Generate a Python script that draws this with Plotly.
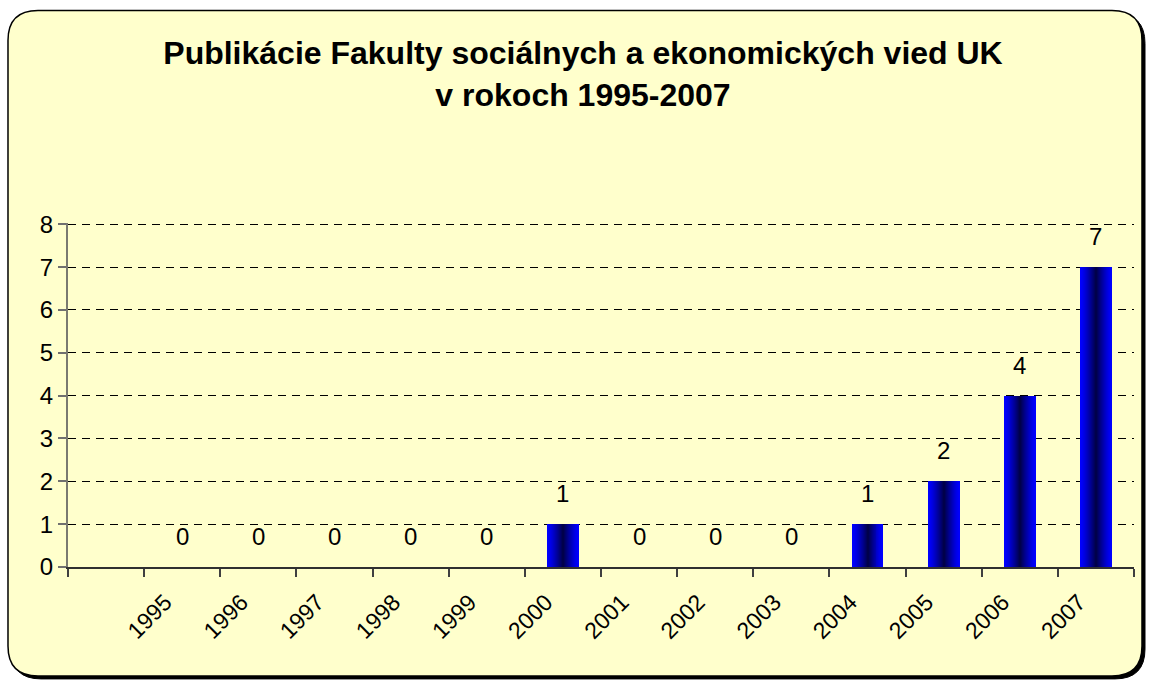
import plotly.graph_objects as go

# ---- data ----
years = ["1995", "1996", "1997", "1998", "1999", "2000", "2001",
         "2002", "2003", "2004", "2005", "2006", "2007"]
counts = [0, 0, 0, 0, 0, 1, 0, 0, 0, 1, 2, 4, 7]
title_lines = ["Publikácie Fakulty sociálnych a ekonomických vied UK",
               "v rokoch 1995-2007"]

W, H = 1149, 684
YMAX = 8.03
L, R, B = 68, 1134, 567          # plot area in pixels
T = B - (B - 224) * YMAX / 8     # so that y=8 sits at pixel 224

FONT = "Liberation Sans, Arial, sans-serif"

fig = go.Figure()

# gradient bars: overlaid bars, narrowing and darkening toward the centre
n_layers = 16
full_w = 0.42
for i in range(n_layers):
    f = (i / (n_layers - 1)) ** 1.3
    w = full_w * (1 - i / n_layers)
    b = int(round(255 - (255 - 75) * f))
    fig.add_trace(go.Bar(
        x=years, y=counts, width=w,
        marker=dict(color=f"rgb(0,0,{b})", line=dict(width=0)),
        hoverinfo="skip", showlegend=False,
    ))

# data labels (x given as category index; slot 0 is the empty first slot)
for i, (yr, v) in enumerate(zip(years, counts)):
    fig.add_annotation(x=i + 1, y=v, xref="x", yref="y", text=str(v),
                       showarrow=False, yanchor="bottom", yshift=15,
                       font=dict(family=FONT, size=24, color="black"))

def px_to_paper(px, py):
    return (px - L) / (R - L), (B - py) / (B - T)

def rounded_path(x0, y0, x1, y1, r):
    def P(px, py):
        xx, yy = px_to_paper(px, py)
        return f"{xx:.5f},{yy:.5f}"
    return (f"M {P(x0 + r, y0)} L {P(x1 - r, y0)} Q {P(x1, y0)} {P(x1, y0 + r)} "
            f"L {P(x1, y1 - r)} Q {P(x1, y1)} {P(x1 - r, y1)} "
            f"L {P(x0 + r, y1)} Q {P(x0, y1)} {P(x0, y1 - r)} "
            f"L {P(x0, y0 + r)} Q {P(x0, y0)} {P(x0 + r, y0)} Z")

fx0, fy0, fx1, fy1, rad = 8, 10, 1142, 676, 30
fig.add_shape(type="path", xref="paper", yref="paper", layer="below",
              path=rounded_path(fx0 + 3, fy0 + 3, fx1 + 3, fy1 + 3, rad),
              fillcolor="black", line=dict(color="black", width=1))
fig.add_shape(type="path", xref="paper", yref="paper", layer="below",
              path=rounded_path(fx0, fy0, fx1, fy1, rad),
              fillcolor="#FFFFCC", line=dict(color="black", width=1.5))

fig.update_layout(
    width=W, height=H,
    margin=dict(l=L, r=W - R, t=T, b=H - B, pad=0),
    paper_bgcolor="white",
    plot_bgcolor="rgba(0,0,0,0)",
    barmode="overlay",
    bargap=0,
    showlegend=False,
    font=dict(family=FONT, size=22, color="black"),
    title=dict(text="<b>" + "<br>".join(title_lines) + "</b>",
               x=583 / W, xanchor="center", xref="container",
               y=1 - 64 / H, yanchor="top", yref="container",
               font=dict(family=FONT, size=32, color="black")),
)

fig.update_xaxes(
    type="category",
    categoryorder="array", categoryarray=[" "] + years,
    range=[-0.5, len(years) + 0.5],
    tickson="boundaries", ticks="outside", ticklen=8, tickwidth=1.5,
    tickcolor="#404040",
    showline=True, linecolor="#303030", linewidth=1.5,
    showgrid=False, zeroline=False,
    tickangle=-45, tickfont=dict(family=FONT, size=23, color="black"),
    ticklabelshift=-17, ticklabelstandoff=11,
    fixedrange=True,
)
fig.update_yaxes(
    range=[0, YMAX], tickvals=list(range(0, 9)),
    ticks="outside", ticklen=8, tickwidth=1.5, tickcolor="#707070",
    showline=True, linecolor="#7a7a70", linewidth=2,
    showgrid=True, gridcolor="black", gridwidth=1, griddash="8px,6px",
    zeroline=False,
    tickfont=dict(family=FONT, size=24, color="black"),
    fixedrange=True,
)

fig.write_html("out.html", config={"displayModeBar": False},
               post_script="document.body.style.margin='0';")
